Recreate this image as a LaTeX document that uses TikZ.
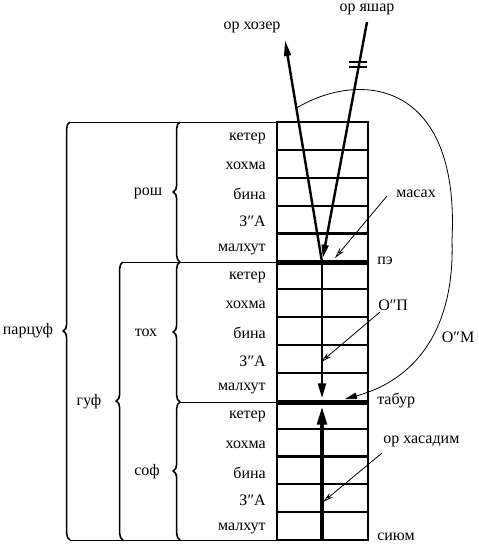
\documentclass[tikz,border=0pt]{standalone}
\usepackage{fontspec}
\setmainfont{Liberation Serif}
\newfontfamily\lblfont{Liberation Serif}
\usetikzlibrary{arrows.meta,decorations.pathreplacing}

\tikzset{
  lbl/.style={font=\lblfont\fontsize{12}{14}\selectfont, inner sep=0pt},
  rowline/.style={line width=1.6pt},
  pebar/.style={line width=3.75pt},
  grp/.style={decorate, decoration={brace, amplitude=5pt}, line width=1.2pt},
  ptr/.style={line width=0.6pt, -{Stealth[open,length=8pt,width=4pt]}},
  ray/.style={line width=1.8pt},
}

\begin{document}
\begin{tikzpicture}[x=0.75pt,y=-0.75pt]
        \useasboundingbox (0,0) rectangle (479,547);

        % sefirot in each third of the column
        \foreach \s in {0,1,2} {
          \foreach \i/\lbl in {0/кетер, 1/хохма, 2/бина, 3/З″А, 4/малхут} {
            \pgfmathsetmacro{\yc}{122+27.87*(5*\s+\i+0.5)+2}
            \node[lbl, anchor=east] (r\s\i) at (266,\yc) {\lbl};
          }
        }
        \foreach \k in {1,2,3,4,6,7,8,9,11,12,13,14}
          \draw[rowline] (277,122+27.87*\k) -- (368,122+27.87*\k);
        \draw[line width=1.6pt] (277,122) rectangle (368,540);

        \coordinate (pe) at (322,262);
        \coordinate (tabur) at (322,402);
        \coordinate (siyum) at (322,540);
        \coordinate (hozer) at (285,40);
        \coordinate (yashar) at (367,22);
        \draw[pebar] (277,262) -- (368,262);
        \draw[pebar] (277,402) -- (368,402);

        % group lines and braces
        \draw[thin] (70,122) -- (277,122);
        \draw[thin] (70,540) -- (277,540);
        \draw[thin] (123,262) -- (277,262);
        \draw[thin] (180,402) -- (277,402);
        \draw[grp] (70,540) -- (70,122);
        \draw[grp] (180,262) -- (180,122);
        \draw[grp] (180,402) -- (180,262);
        \draw[grp] (180,540) -- (180,402);
        \draw[grp] (123,540) -- (123,262);
        \node[lbl] (lpar) at (28,331) {парцуф};
        \node[lbl] (lrosh) at (148,193) {рош};
        \node[lbl] (ltoh) at (146,333) {тох};
        \node[lbl] (lsof) at (147,472) {соф};
        \node[lbl] (lguf) at (89,402) {гуф};

        % lights
        \draw[ray, -{Triangle[length=12pt,width=5pt]}] (pe) -- (hozer);
        \draw[ray, -{Triangle[length=10pt,width=5pt]}, shorten >=3pt] (yashar) -- (pe);
        \draw[line width=1.2pt] (349,62) -- (367,62) (349,67) -- (367,67);
        \draw[line width=1.5pt, -{Triangle[length=11pt,width=6pt]}, shorten >=3pt] (pe) -- (tabur);
        \draw[line width=3pt, -{Triangle[length=14pt,width=7pt]}, shorten >=3pt] (siyum) -- (tabur);

        \node[lbl] (lhozer) at (252,27) {ор хозер};
        \node[lbl] (lyashar) at (367,9) {ор яшар};
        \node[lbl, anchor=west] (lmasah) at (396,194) {масах};
        \node[lbl, anchor=west] (lpe) at (377,261) {пэ};
        \node[lbl, anchor=west] (lop) at (378,305) {О″П};
        \node[lbl] (lom) at (458,337) {О″М};
        \node[lbl, anchor=west] (ltabur) at (377,400) {табур};
        \node[lbl, anchor=west] (lhas) at (383,441) {ор хасадим};
        \node[lbl, anchor=west] (lsiyum) at (377,537) {сиюм};

        % pointers
        \coordinate (m1) at (387,196);
        \coordinate (m2) at (335,258);
        \coordinate (p1) at (380,312);
        \coordinate (p2) at (321,362);
        \coordinate (h1) at (382,453);
        \coordinate (h2) at (323,502);
        \draw[ptr] (m1) -- (m2);
        \draw[ptr] (p1) -- (p2);
        \draw[ptr] (h1) -- (h2);

        \coordinate (om0) at (296.5,108);
        \coordinate (om1) at (345,399);
        \draw[line width=0.6pt, -{Triangle[length=9pt,width=5pt]}]
          (om0) .. controls (360,70) and (460,80) .. (452,240)
          .. controls (455,330) and (415,380) .. (om1);
\end{tikzpicture}
\end{document}
